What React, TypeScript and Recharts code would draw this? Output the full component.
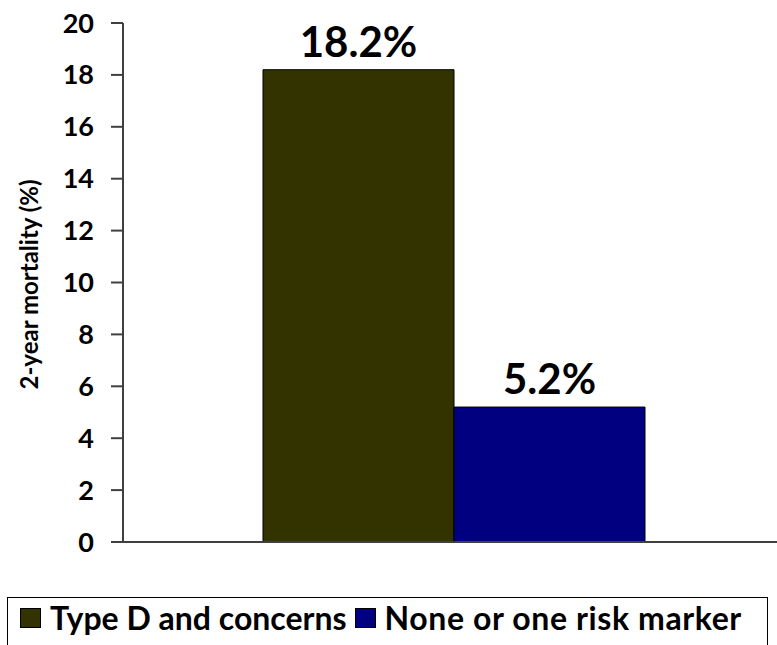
import { BarChart, Bar, XAxis, YAxis, Legend, LabelList } from 'recharts';

const categories = [''];
const typeD = [18.2];
const noneOrOne = [5.2];
const yTicks = [0, 2, 4, 6, 8, 10, 12, 14, 16, 18, 20];

const SERIES = [
  { key: 'typeD', name: 'Type D and concerns', color: '#333300' },
  { key: 'none', name: 'None or one risk marker', color: '#000080' },
];

const FONT = 'Lato, "Open Sans", sans-serif';

const data = categories.map((c, i) => ({ cat: c, typeD: typeD[i], none: noneOrOne[i] }));

function LegendBox() {
  return (
    <div
      style={{
        border: '1.5px solid #000',
        height: 60,
        boxSizing: 'border-box',
        display: 'flex',
        alignItems: 'flex-start',
        paddingTop: 0,
        paddingLeft: 12,
        fontFamily: FONT,
        fontWeight: 700,
        fontSize: 32,
        lineHeight: '40px',
        color: '#000',
        whiteSpace: 'nowrap',
      }}
    >
      {SERIES.map((s, i) => (
        <div key={s.key} style={{ display: 'flex', alignItems: 'center', marginRight: i === 0 ? 8 : 0 }}>
          <span
            style={{
              display: 'inline-block',
              width: 19,
              height: 18,
              background: s.color,
              border: '1px solid #000',
              marginRight: 9,
            }}
          />
          <span style={{ letterSpacing: i === 1 ? 0.6 : 0 }}>{s.name}</span>
        </div>
      ))}
    </div>
  );
}

export default function App() {
  return (
    <div style={{ position: 'absolute', left: 0, top: 0, width: 777, height: 645, overflow: 'hidden', background: '#fff' }}>
      <BarChart
        width={900}
        height={645}
        data={data}
        margin={{ top: 23, right: 115, bottom: 42, left: 0 }}
        barGap={0}
        barCategoryGap={140}
      >
        <XAxis
          dataKey="cat"
          tick={false}
          height={1}
          axisLine={{ stroke: '#404040', strokeWidth: 2 }}
          tickLine={false}
        />
        <YAxis
          domain={[0, 20]}
          ticks={yTicks}
          width={123}
          tickSize={12}
          tickMargin={17}
          axisLine={{ stroke: '#404040', strokeWidth: 2 }}
          tickLine={{ stroke: '#404040', strokeWidth: 2 }}
          tick={{ fontSize: 27, fontWeight: 700, fill: '#000', fontFamily: FONT }}
          label={{
            value: '2-year mortality (%)',
            angle: -90,
            position: 'insideLeft',
            dx: 24,
            dy: 107,
            style: { fontSize: 24, fontWeight: 700, fill: '#000', fontFamily: FONT },
          }}
        />
        <Legend
          content={<LegendBox />}
          wrapperStyle={{ position: 'absolute', left: 7, top: 597, width: 761, bottom: 'auto' }}
        />
        {SERIES.map((s) => (
          <Bar
            key={s.key}
            dataKey={s.key}
            name={s.name}
            fill={s.color}
            stroke="#000"
            strokeWidth={1}
            isAnimationActive={false}
          >
            <LabelList
              dataKey={s.key}
              position="top"
              offset={13}
              formatter={(v: number) => `${v}%`}
              style={{ fontSize: 42, fontWeight: 700, fill: '#000', fontFamily: FONT }}
            />
          </Bar>
        ))}
      </BarChart>
    </div>
  );
}
